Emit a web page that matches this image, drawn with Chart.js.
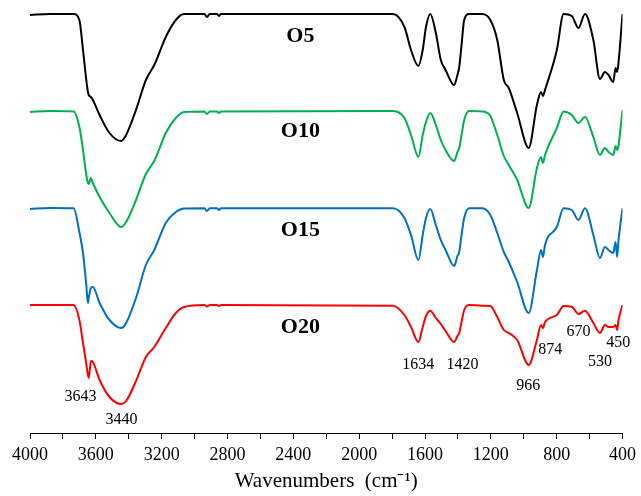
<!DOCTYPE html>
<html>
<head>
<meta charset="utf-8">
<script src="https://cdn.jsdelivr.net/npm/chart.js@4.4.1/dist/chart.umd.min.js"></script>
<style>
  html, body { margin: 0; padding: 0; background: #fff; }
  canvas { display: block; }
</style>
</head>
<body>
<canvas id="ftirChart" width="641" height="496"></canvas>
<script>
// wavenumber grid (cm-1), shared by the four spectra
const wavenumbers = [4000,3880,3735,3700,3678,3658,3648,3643,3630,3618,
  3577,3517,3446,3416,3356,3296,3245,3175,3114,3064,
  2940,2925,2907,2864,2852,2840,1795,1725,1685,1640,
  1614,1594,1568,1534,1504,1475,1423,1403,1392,1378,
  1362,1332,1252,1203,1161,1121,1091,1040,970,920,
  895,883,871,799,758,708,668,628,577,537,
  507,485,456,442,433,424,400];

// stacked spectra, arbitrary units (axis increases downward)
const o5 = [15,14,14,20,50,80,92,95,97,100,
  115,133,141,135,110,80,65,37,20,14,
  14,17,14,14,16,14,14,27,50,66,
  50,27,14,33,60,70,85,75,67,45,
  20,14,14,20,40,80,88,113,148,105,
  92,96,90,50,14,16,28,14,40,79,
  72,75,82,68,72,62,14];

const o10 = [112,111,111.5,127,150,175,183,184,178,183,
  197,213,227,222,200,174,161,133,118,112,
  111.5,114,111.5,111.5,113,111.5,111,118,135,157,
  135,122,113,125,140,150,161,152,148,135,
  120,111,111.5,116,135,156,165,180,208,168,
  157,163,155,128,111.5,115,123,117,137,155,
  148,152,155,146,150,145,110];

const o15 = [209,208,208.3,232,253,285,303,298,288,287,
  303,320,328,323,298,265,250,223,212,208.5,
  208.3,211,208.3,208.3,210,208.3,208.3,218,235,260,
  235,218,209,225,240,250,266,256,252,235,
  218,208.3,208.3,215,233,252,262,282,313,270,
  250,257,245,227,208.3,210,220,208.3,235,258,
  247,250,253,242,257,240,208.3];

const o20 = [305,305,305,320,343,364,375,378,361,362,
  380,397,404,401,381,357,347,328,313,307,
  305,306.5,305,305,306,305,305.7,315,327,342,
  327,316,310.7,318,324,331,342,336,333,322,
  310,305,305.7,306,317,330,333,340,365,340,
  325,328,322,315,306,306.7,314,310.7,323,333,
  325,327,327,325,330,320,305];

const seriesNames = ["O5", "O10", "O15", "O20"];
const seriesColors = ["#000000", "#00b050", "#0070c0", "#ff0000"];

// sample names, placed in data units
const sampleLabelX = [2357, 2357, 2357, 2357];
const sampleLabelY = [36, 131, 230, 327];

// band labels under the O20 spectrum
const peakLabels = ["3643", "3440", "1634", "1420", "966", "874", "670", "530", "450"];
const peakLabelX = [3693, 3444, 1641, 1372, 972, 839, 668, 537, 426];
const peakLabelY = [397, 420, 365, 365, 386, 350, 332, 362, 343];

const serif = "'Liberation Serif', 'Times New Roman', serif";

function toPoints(values) {
    return wavenumbers.map((w, i) => ({ x: w, y: values[i] }));
}

// draws the sample names and band numbers
const textLabels = {
    id: "textLabels",
    afterDatasetsDraw(chart) {
        const ctx = chart.ctx;
        const xs = chart.scales.x;
        const ys = chart.scales.y;
        ctx.save();
        ctx.fillStyle = "#000";
        ctx.textAlign = "center";
        ctx.textBaseline = "middle";

        ctx.font = "bold 22px " + serif;
        seriesNames.forEach((name, i) => {
            ctx.fillText(name, xs.getPixelForValue(sampleLabelX[i]), ys.getPixelForValue(sampleLabelY[i]));
        });

        ctx.font = "16px " + serif;
        peakLabels.forEach((t, i) => {
            ctx.fillText(t, xs.getPixelForValue(peakLabelX[i]), ys.getPixelForValue(peakLabelY[i]));
        });
        ctx.restore();
    }
};

const ctx = document.getElementById("ftirChart").getContext("2d");

new Chart(ctx, {
    type: "line",
    data: {
        datasets: [o5, o10, o15, o20].map((vals, i) => ({
            label: seriesNames[i],
            data: toPoints(vals),
            borderColor: seriesColors[i],
            borderWidth: 2,
            pointRadius: 0,
            fill: false,
            cubicInterpolationMode: "monotone"
        }))
    },
    options: {
        responsive: false,
        animation: false,
        layout: { padding: { left: 30, right: 15, top: 0, bottom: 0 } },
        plugins: {
            legend: { display: false },
            tooltip: { enabled: false }
        },
        scales: {
            x: {
                type: "linear",
                reverse: true,
                min: 400,
                max: 4000,
                afterFit: s => { s.height = 63; },
                ticks: {
                    stepSize: 200,
                    autoSkip: false,
                    maxRotation: 0,
                    padding: 5,
                    color: "#000",
                    font: { family: serif, size: 18 },
                    callback: v => (v % 400 === 0 ? String(v) : "")
                },
                grid: {
                    display: true,
                    drawOnChartArea: false,
                    drawTicks: true,
                    tickLength: 6,
                    color: "#000",
                    lineWidth: 1
                },
                border: { display: true, color: "#000", width: 1 },
                title: {
                    display: true,
                    text: "Wavenumbers  (cm\u207B\u00B9)",
                    color: "#000",
                    font: { family: serif, size: 21 },
                    padding: { top: 0, bottom: 2 }
                }
            },
            y: {
                display: false,
                reverse: true,
                min: 0,
                max: 433
            }
        }
    },
    plugins: [textLabels]
});
</script>
</body>
</html>
